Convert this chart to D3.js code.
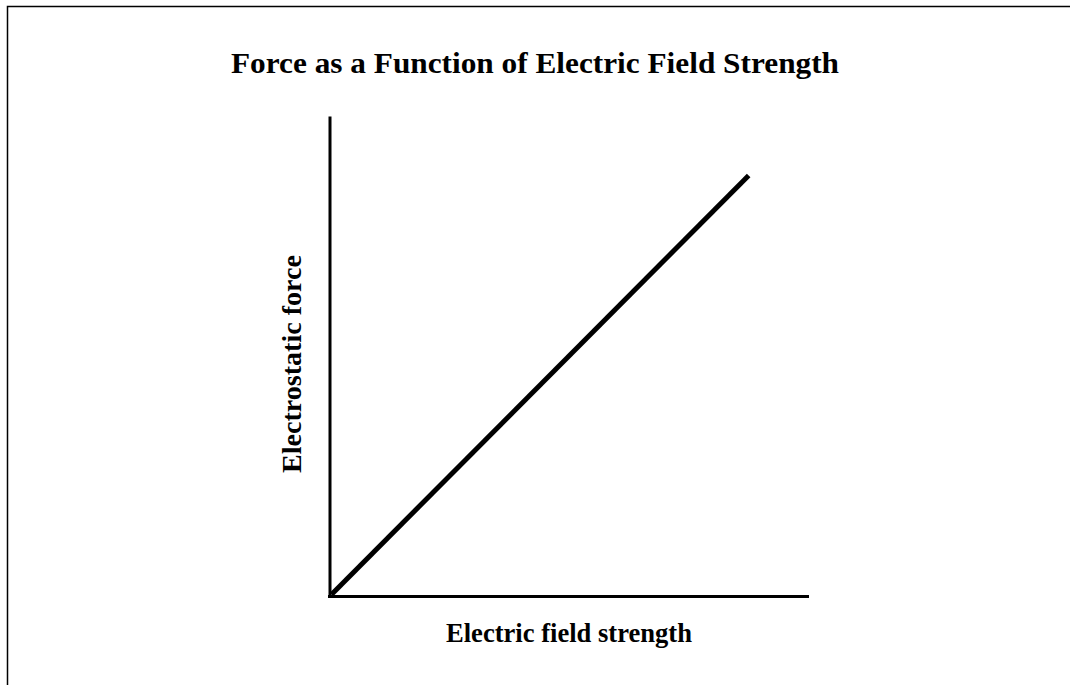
<!DOCTYPE html>
<html>
<head>
<meta charset="utf-8">
<script src="https://cdn.jsdelivr.net/npm/d3@7"></script>
<style>
  html, body { margin: 0; padding: 0; background: #fff; }
  svg { display: block; }
  text { font-family: "Liberation Serif", "Times New Roman", serif; font-weight: bold; fill: #000; }
</style>
</head>
<body>
<svg id="chart" width="1070" height="685"></svg>
<script>
// Data
const fieldStrength = [0, 8.7];   // x values (arbitrary units)
const force = [0, 8.72];          // y values (arbitrary units)
const xDomain = [0, 10];
const yDomain = [0, 10];
const titleText = "Force as a Function of Electric Field Strength";
const xLabel = "Electric field strength";
const yLabel = "Electrostatic force";

const svg = d3.select("#chart");
const W = 1070, H = 685;
const margin = { left: 329.5, right: W - 809, top: 116, bottom: H - 596.5 };

// Outer frame (extends beyond the visible area on the right and bottom)
svg.append("rect")
  .attr("x", 7.5).attr("y", 6.5)
  .attr("width", W + 20).attr("height", H + 20)
  .attr("fill", "none").attr("stroke", "#000").attr("stroke-width", 1.5);

const x = d3.scaleLinear().domain(xDomain).range([margin.left, W - margin.right]);
const y = d3.scaleLinear().domain(yDomain).range([H - margin.bottom, margin.top]);

// Axes (no ticks)
const xAxis = d3.axisBottom(x).tickValues([]).tickSizeOuter(0);
const yAxis = d3.axisLeft(y).tickValues([]).tickSizeOuter(0);

const gx = svg.append("g").attr("transform", `translate(0,${H - margin.bottom})`).call(xAxis);
const gy = svg.append("g").attr("transform", `translate(${margin.left},0)`).call(yAxis);
gx.select(".domain").attr("stroke", "#000").attr("stroke-width", 3).attr("d", `M${x(xDomain[0]) - 1.5},0H${x(xDomain[1])}`);
gy.select(".domain").attr("stroke", "#000").attr("stroke-width", 3);

// Line
const pts = fieldStrength.map((v, i) => [v, force[i]]);
svg.append("path")
  .datum(pts)
  .attr("fill", "none")
  .attr("stroke", "#000")
  .attr("stroke-width", 5)
  .attr("stroke-linecap", "butt")
  .attr("d", d3.line().x(d => x(d[0]) + 2).y(d => y(d[1]) - 2));

// Title
svg.append("text")
  .attr("x", 535).attr("y", 73)
  .attr("text-anchor", "middle")
  .attr("font-size", 30)
  .attr("textLength", 608)
  .attr("lengthAdjust", "spacingAndGlyphs")
  .text(titleText);

// X label
svg.append("text")
  .attr("x", 569).attr("y", 642)
  .attr("text-anchor", "middle")
  .attr("font-size", 26.5)
  .attr("textLength", 246)
  .attr("lengthAdjust", "spacingAndGlyphs")
  .text(xLabel);

// Y label
svg.append("text")
  .attr("transform", "translate(301,364) rotate(-90)")
  .attr("text-anchor", "middle")
  .attr("font-size", 27)
  .attr("textLength", 218)
  .attr("lengthAdjust", "spacingAndGlyphs")
  .text(yLabel);
</script>
</body>
</html>
